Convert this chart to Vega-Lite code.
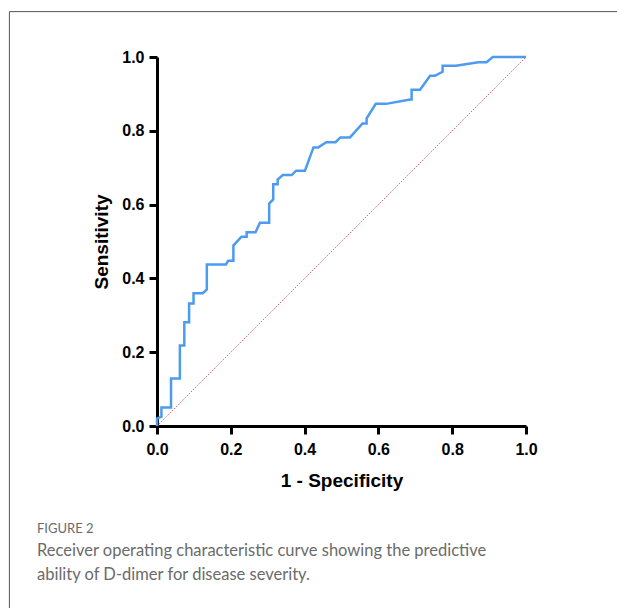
{
  "$schema": "https://vega.github.io/schema/vega-lite/v6.json",
  "autosize": "none",
  "width": 369,
  "height": 369,
  "padding": {"left": 157, "top": 57, "right": 91, "bottom": 182},
  "background": "white",
  "config": {
    "view": {"stroke": null},
    "axis": {
      "grid": false,
      "domainColor": "black",
      "domainWidth": 3,
      "tickColor": "black",
      "tickWidth": 3,
      "tickSize": 8,
      "labelFlush": false,
      "labelFont": "Liberation Sans",
      "labelFontWeight": "bold",
      "labelFontSize": 16,
      "labelColor": "black",
      "titleFont": "Liberation Sans",
      "titleFontWeight": "bold",
      "titleFontSize": 19,
      "titleColor": "black"
    }
  },
  "title": {
    "text": "FIGURE 2",
    "subtitle": ["Receiver operating characteristic curve showing the predictive", "ability of D-dimer for disease severity."],
    "orient": "bottom",
    "anchor": "start",
    "frame": "group",
    "dx": -120,
    "offset": 0,
    "dy": -88,
    "font": "Lato",
    "fontSize": 13,
    "fontWeight": "normal",
    "color": "#6b6b6b",
    "subtitleFont": "Lato",
    "subtitleFontSize": 16.5,
    "subtitleColor": "#6b6b6b",
    "subtitleLineHeight": 24,
    "subtitlePadding": 7
  },
  "datasets": {
    "roc": [
      {"i": 0, "fpr": 0, "tpr": 0},
      {"i": 1, "fpr": 0, "tpr": 0.02},
      {"i": 2, "fpr": 0.012, "tpr": 0.025},
      {"i": 3, "fpr": 0.012, "tpr": 0.05},
      {"i": 4, "fpr": 0.038, "tpr": 0.05},
      {"i": 5, "fpr": 0.038, "tpr": 0.129},
      {"i": 6, "fpr": 0.062, "tpr": 0.129},
      {"i": 7, "fpr": 0.062, "tpr": 0.218},
      {"i": 8, "fpr": 0.074, "tpr": 0.218},
      {"i": 9, "fpr": 0.074, "tpr": 0.281},
      {"i": 10, "fpr": 0.087, "tpr": 0.281},
      {"i": 11, "fpr": 0.087, "tpr": 0.332},
      {"i": 12, "fpr": 0.099, "tpr": 0.332},
      {"i": 13, "fpr": 0.099, "tpr": 0.36},
      {"i": 14, "fpr": 0.124, "tpr": 0.36},
      {"i": 15, "fpr": 0.135, "tpr": 0.37},
      {"i": 16, "fpr": 0.135, "tpr": 0.438},
      {"i": 17, "fpr": 0.187, "tpr": 0.438},
      {"i": 18, "fpr": 0.193, "tpr": 0.448},
      {"i": 19, "fpr": 0.207, "tpr": 0.448},
      {"i": 20, "fpr": 0.207, "tpr": 0.489},
      {"i": 21, "fpr": 0.229, "tpr": 0.513},
      {"i": 22, "fpr": 0.243, "tpr": 0.513},
      {"i": 23, "fpr": 0.243, "tpr": 0.525},
      {"i": 24, "fpr": 0.267, "tpr": 0.525},
      {"i": 25, "fpr": 0.279, "tpr": 0.551},
      {"i": 26, "fpr": 0.304, "tpr": 0.551},
      {"i": 27, "fpr": 0.304, "tpr": 0.603},
      {"i": 28, "fpr": 0.315, "tpr": 0.614},
      {"i": 29, "fpr": 0.315, "tpr": 0.655},
      {"i": 30, "fpr": 0.327, "tpr": 0.655},
      {"i": 31, "fpr": 0.327, "tpr": 0.668},
      {"i": 32, "fpr": 0.341, "tpr": 0.68},
      {"i": 33, "fpr": 0.365, "tpr": 0.68},
      {"i": 34, "fpr": 0.377, "tpr": 0.692},
      {"i": 35, "fpr": 0.401, "tpr": 0.692},
      {"i": 36, "fpr": 0.424, "tpr": 0.755},
      {"i": 37, "fpr": 0.437, "tpr": 0.755},
      {"i": 38, "fpr": 0.459, "tpr": 0.769},
      {"i": 39, "fpr": 0.484, "tpr": 0.769},
      {"i": 40, "fpr": 0.497, "tpr": 0.782},
      {"i": 41, "fpr": 0.523, "tpr": 0.782},
      {"i": 42, "fpr": 0.557, "tpr": 0.82},
      {"i": 43, "fpr": 0.568, "tpr": 0.82},
      {"i": 44, "fpr": 0.568, "tpr": 0.834},
      {"i": 45, "fpr": 0.593, "tpr": 0.873},
      {"i": 46, "fpr": 0.621, "tpr": 0.873},
      {"i": 47, "fpr": 0.686, "tpr": 0.885},
      {"i": 48, "fpr": 0.69, "tpr": 0.885},
      {"i": 49, "fpr": 0.69, "tpr": 0.911},
      {"i": 50, "fpr": 0.713, "tpr": 0.911},
      {"i": 51, "fpr": 0.74, "tpr": 0.949},
      {"i": 52, "fpr": 0.753, "tpr": 0.949},
      {"i": 53, "fpr": 0.774, "tpr": 0.96},
      {"i": 54, "fpr": 0.774, "tpr": 0.976},
      {"i": 55, "fpr": 0.81, "tpr": 0.976},
      {"i": 56, "fpr": 0.871, "tpr": 0.986},
      {"i": 57, "fpr": 0.893, "tpr": 0.986},
      {"i": 58, "fpr": 0.91, "tpr": 1},
      {"i": 59, "fpr": 1, "tpr": 1}
    ],
    "diag": [
      {"fpr": 0, "tpr": 0},
      {"fpr": 1, "tpr": 1}
    ],
    "frame": [
      {"x0": -0.4, "x1": 1.3, "y0": 1.123, "y1": -0.5}
    ]
  },
  "layer": [
    {
      "data": {"name": "frame"},
      "mark": {"type": "rect", "fill": null, "stroke": "#555555", "strokeWidth": 1, "clip": false},
      "encoding": {
        "x": {"field": "x0", "type": "quantitative", "scale": {"domain": [0, 1], "nice": false, "zero": false}},
        "x2": {"field": "x1"},
        "y": {"field": "y0", "type": "quantitative", "scale": {"domain": [0, 1], "nice": false, "zero": false}},
        "y2": {"field": "y1"}
      }
    },
    {
      "data": {"name": "diag"},
      "mark": {"type": "line", "color": "#e0606e", "strokeWidth": 1, "strokeDash": [1.5, 1.5]},
      "encoding": {
        "x": {"field": "fpr", "type": "quantitative"},
        "y": {"field": "tpr", "type": "quantitative"}
      }
    },
    {
      "data": {"name": "roc"},
      "mark": {"type": "line", "color": "#4d9bef", "strokeWidth": 2.5, "strokeJoin": "miter"},
      "encoding": {
        "x": {
          "field": "fpr", "type": "quantitative",
          "scale": {"domain": [0, 1], "nice": false, "zero": false},
          "axis": {"title": "1 - Specificity", "values": [0, 0.2, 0.4, 0.6, 0.8, 1], "format": ".1f", "labelPadding": 7, "titlePadding": 14}
        },
        "y": {
          "field": "tpr", "type": "quantitative",
          "scale": {"domain": [0, 1], "nice": false, "zero": false},
          "axis": {"title": "Sensitivity", "values": [0, 0.2, 0.4, 0.6, 0.8, 1], "format": ".1f", "labelPadding": 5, "titlePadding": 10}
        },
        "order": {"field": "i", "type": "quantitative"}
      }
    }
  ]
}
